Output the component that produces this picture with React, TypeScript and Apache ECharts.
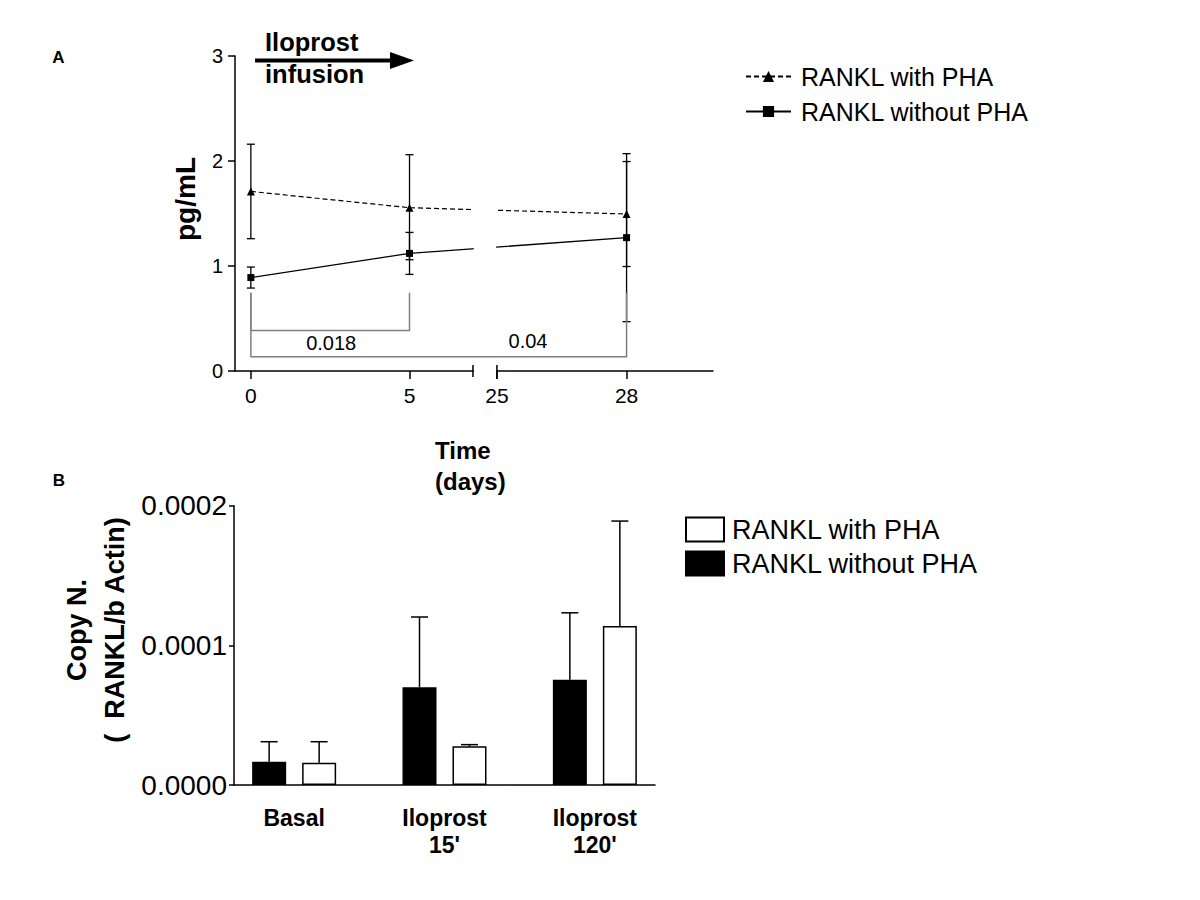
import React, { useEffect, useRef } from 'react';
import * as echarts from 'echarts';

// ---------- Panel A data ----------
const DAYS = [0, 5, 28];
const DAY_TICKS = [0, 5, 25, 28];
const WITH_PHA_MEAN = [1.71, 1.555, 1.495];
const WITH_PHA_LOW = [1.26, 1.06, 0.995];
const WITH_PHA_HIGH = [2.16, 2.06, 1.995];
const WITHOUT_PHA_MEAN = [0.89, 1.12, 1.27];
const WITHOUT_PHA_LOW = [0.79, 0.92, 0.47];
const WITHOUT_PHA_HIGH = [0.99, 1.32, 2.07];
const P_VALUES = ['0.018', '0.04'];

// ---------- Panel B data ----------
const CATEGORIES = ['Basal', "Iloprost\n15'", "Iloprost\n120'"];
const BAR_WITHOUT = [0.0000167, 0.00007, 0.0000754];
const BAR_WITHOUT_ERR = [0.000031, 0.0001203, 0.0001233];
const BAR_WITH = [0.000016, 0.0000277, 0.0001138];
const BAR_WITH_ERR = [0.000031, 0.0000289, 0.000189];

const NAME_WITH = 'RANKL with PHA';
const NAME_WITHOUT = 'RANKL without PHA';

// broken time axis: days 0..7 | 25..30 (right part drawn wider)
const LEFT_END = 7;
const RIGHT_START = 25;
const AXIS_END = 30;
const BREAK_GAP = 0.755;
const RIGHT_SCALE = 1.362;
const toAxis = (d: number) =>
  d <= LEFT_END ? d : LEFT_END + BREAK_GAP + (d - RIGHT_START) * RIGHT_SCALE;

const FONT = 'Liberation Sans, Arial, sans-serif';

export default function App() {
  const ref = useRef<HTMLDivElement>(null);
  useEffect(() => {
    if (!ref.current) return;
    const chart = echarts.init(ref.current, null, { renderer: 'svg' });

    const errA = (params: any, api: any) => {
      const x = api.value(0);
      const top = api.coord([x, api.value(2)]);
      const bot = api.coord([x, api.value(1)]);
      const w = 4;
      const st = { stroke: '#000', lineWidth: 1.3 };
      return {
        type: 'group',
        children: [
          { type: 'line', shape: { x1: top[0], y1: top[1], x2: bot[0], y2: bot[1] }, style: st },
          { type: 'line', shape: { x1: top[0] - w, y1: top[1], x2: top[0] + w, y2: top[1] }, style: st },
          { type: 'line', shape: { x1: bot[0] - w, y1: bot[1], x2: bot[0] + w, y2: bot[1] }, style: st },
        ],
      };
    };
    const errB = (offset: number) => (params: any, api: any) => {
      const i = api.value(0);
      const top = api.coord([i, api.value(2)]);
      const bot = api.coord([i, api.value(1)]);
      const x = top[0] + offset;
      const w = 8.5;
      const st = { stroke: '#000', lineWidth: 1.5 };
      return {
        type: 'group',
        children: [
          { type: 'line', shape: { x1: x, y1: top[1], x2: x, y2: bot[1] }, style: st },
          { type: 'line', shape: { x1: x - w, y1: top[1], x2: x + w, y2: top[1] }, style: st },
        ],
      };
    };

    const axisLine = { show: true, onZero: false, lineStyle: { color: '#000', width: 1.5 } };
    const tickStyle = { color: '#000', width: 1.5 };

    chart.setOption({
      animation: false,
      backgroundColor: '#fff',
      textStyle: { fontFamily: FONT },
      grid: [
        { left: 235, top: 56, width: 478, height: 315, outerBoundsMode: 'none' },
        { left: 234, top: 505.7, width: 421, height: 279.3, outerBoundsMode: 'none' },
      ],
      legend: [
        {
          orient: 'vertical',
          left: 745,
          top: 64,
          padding: 0,
          itemWidth: 45,
          itemHeight: 14,
          itemGap: 10,
          selectedMode: false,
          data: ['A: ' + NAME_WITH, 'A: ' + NAME_WITHOUT],
          formatter: (n: string) => n.slice(3),
          textStyle: { fontSize: 25, color: '#000', fontFamily: FONT, padding: [0, 0, 0, 5] },
        },
        {
          orient: 'vertical',
          left: 685,
          top: 516,
          padding: 0,
          itemWidth: 38,
          itemHeight: 24,
          itemGap: 7,
          icon: 'rect',
          selectedMode: false,
          data: ['B: ' + NAME_WITH, 'B: ' + NAME_WITHOUT],
          formatter: (n: string) => n.slice(3),
          textStyle: { fontSize: 27, color: '#000', fontFamily: FONT, padding: [0, 0, 0, 3] },
        },
      ],
      xAxis: [
        {
          gridIndex: 0,
          type: 'value',
          min: -0.5,
          max: toAxis(AXIS_END),
          axisLine,
          splitLine: { show: false },
          axisTick: { show: true, length: 8, lineStyle: tickStyle, customValues: DAY_TICKS.map(toAxis) },
          axisLabel: {
            customValues: DAY_TICKS.map(toAxis),
            formatter: (v: number) => {
              const d = DAY_TICKS.find((t) => Math.abs(toAxis(t) - v) < 1e-6);
              return d === undefined ? '' : String(d);
            },
            fontSize: 21,
            color: '#000',
            margin: 14,
            fontFamily: FONT,
          },
        },
        {
          gridIndex: 1,
          type: 'value',
          min: -0.4,
          max: 2.4,
          axisLine,
          splitLine: { show: false },
          axisTick: { show: false },
          axisLabel: {
            customValues: CATEGORIES.map((_, i) => i),
            formatter: (v: number) => CATEGORIES[Math.round(v)] ?? '',
            fontSize: 23,
            fontWeight: 'bold',
            lineHeight: 27,
            color: '#000',
            margin: 19,
            fontFamily: FONT,
          },
        },
      ],
      yAxis: [
        {
          gridIndex: 0,
          type: 'value',
          min: 0,
          max: 3,
          interval: 1,
          axisLine,
          splitLine: { show: false },
          axisTick: { show: true, length: 7, lineStyle: tickStyle },
          axisLabel: { fontSize: 20, color: '#000', margin: 12, fontFamily: FONT },
        },
        {
          gridIndex: 1,
          type: 'value',
          min: 0,
          max: 0.0002,
          interval: 0.0001,
          axisLine,
          splitLine: { show: false },
          axisTick: { show: true, length: 5, lineStyle: tickStyle },
          axisLabel: {
            fontSize: 28,
            color: '#000',
            margin: 7,
            fontFamily: FONT,
            formatter: (v: number) => v.toFixed(4),
          },
        },
      ],
      series: [
        {
          name: 'A: ' + NAME_WITH,
          type: 'line',
          xAxisIndex: 0,
          yAxisIndex: 0,
          data: DAYS.map((d, i) => [toAxis(d), WITH_PHA_MEAN[i]]),
          symbol: 'triangle',
          symbolSize: 8,
          lineStyle: { color: '#000', width: 1.2, type: [5, 3] },
          itemStyle: { color: '#000' },
        },
        {
          name: 'A: ' + NAME_WITHOUT,
          type: 'line',
          xAxisIndex: 0,
          yAxisIndex: 0,
          data: DAYS.map((d, i) => [toAxis(d), WITHOUT_PHA_MEAN[i]]),
          symbol: 'rect',
          symbolSize: 7,
          lineStyle: { color: '#000', width: 1.3 },
          itemStyle: { color: '#000' },
        },
        {
          type: 'custom',
          xAxisIndex: 0,
          yAxisIndex: 0,
          renderItem: errA,
          encode: { x: 0, y: [1, 2] },
          data: DAYS.map((d, i) => [toAxis(d), WITH_PHA_LOW[i], WITH_PHA_HIGH[i]]),
        },
        {
          type: 'custom',
          xAxisIndex: 0,
          yAxisIndex: 0,
          renderItem: errA,
          encode: { x: 0, y: [1, 2] },
          data: DAYS.map((d, i) => [toAxis(d), WITHOUT_PHA_LOW[i], WITHOUT_PHA_HIGH[i]]),
        },
        {
          name: 'B: ' + NAME_WITHOUT,
          type: 'bar',
          xAxisIndex: 1,
          yAxisIndex: 1,
          barWidth: 34,
          barGap: '47%',
          data: CATEGORIES.map((_, i) => [i, BAR_WITHOUT[i]]),
          itemStyle: { color: '#000', borderColor: '#000', borderWidth: 1.5 },
        },
        {
          name: 'B: ' + NAME_WITH,
          type: 'bar',
          xAxisIndex: 1,
          yAxisIndex: 1,
          barWidth: 34,
          barGap: '47%',
          data: CATEGORIES.map((_, i) => [i, BAR_WITH[i]]),
          itemStyle: { color: '#fff', borderColor: '#000', borderWidth: 1.5 },
        },
        {
          type: 'custom',
          xAxisIndex: 1,
          yAxisIndex: 1,
          renderItem: errB(-25),
          encode: { x: 0, y: [1, 2] },
          data: CATEGORIES.map((_, i) => [i, BAR_WITHOUT[i], BAR_WITHOUT_ERR[i]]),
        },
        {
          type: 'custom',
          xAxisIndex: 1,
          yAxisIndex: 1,
          renderItem: errB(25),
          encode: { x: 0, y: [1, 2] },
          data: CATEGORIES.map((_, i) => [i, BAR_WITH[i], BAR_WITH_ERR[i]]),
        },
      ],
    });

    // decorations computed from the axis scales
    const px = (x: number, y: number) => chart.convertToPixel({ gridIndex: 0 }, [x, y]) as number[];
    const brkL = px(LEFT_END, 0);
    const brkR = px(toAxis(RIGHT_START), 0);
    const top = px(0, 3);
    const p0 = px(toAxis(0), 0.745);
    const p5 = px(toAxis(5), 0.745);
    const p28 = px(toAxis(28), 0.745);
    const yB1 = px(0, 0.385)[1];
    const yB2 = px(0, 0.136)[1];
    const gray = { stroke: '#808080', lineWidth: 1.5, fill: 'none' };
    const txt = (text: string, x: number, y: number, size: number, bold: boolean, extra: any = {}, rotation = 0) => ({
      type: 'text',
      x,
      y,
      z: 20,
      rotation,
      style: {
        text,
        fill: '#000',
        font: `${bold ? 'bold ' : ''}${size}px ${FONT}`,
        align: 'center',
        verticalAlign: 'middle',
        ...extra,
      },
    });

    chart.setOption({
      graphic: {
        elements: [
          {
            type: 'rect',
            z: 10,
            shape: { x: brkL[0] + 0.8, y: top[1], width: brkR[0] - brkL[0] - 1.6, height: brkL[1] - top[1] + 4 },
            style: { fill: '#fff' },
          },
          { type: 'line', z: 12, shape: { x1: brkL[0], y1: brkL[1] - 6, x2: brkL[0], y2: brkL[1] + 6 }, style: { stroke: '#000', lineWidth: 1.5 } },
          { type: 'line', z: 12, shape: { x1: brkR[0], y1: brkR[1] - 6, x2: brkR[0], y2: brkR[1] + 8 }, style: { stroke: '#000', lineWidth: 1.5 } },
          {
            type: 'polyline',
            z: 11,
            shape: { points: [[p0[0], p0[1]], [p0[0], yB1], [p5[0], yB1], [p5[0], p5[1]]] },
            style: gray,
          },
          {
            type: 'polyline',
            z: 11,
            shape: { points: [[p0[0], p0[1]], [p0[0], yB2], [p28[0], yB2], [p28[0], p28[1]]] },
            style: gray,
          },
          txt(P_VALUES[0], (p0[0] + p5[0]) / 2 + 1, yB1 + 12, 20, false),
          txt(P_VALUES[1], 528, yB2 - 16, 20, false),
          // arrow "Iloprost infusion"
          txt('Iloprost\ninfusion', 265, 58, 25.5, true, { align: 'left', lineHeight: 32 }),
          { type: 'line', z: 20, shape: { x1: 255, y1: 60.5, x2: 393, y2: 60.5 }, style: { stroke: '#000', lineWidth: 4 } },
          { type: 'polygon', z: 20, shape: { points: [[390, 52], [414, 60.5], [390, 69]] }, style: { fill: '#000' } },
          txt('pg/mL', 185, 199, 28, true, {}, Math.PI / 2),
          txt('Time\n(days)', 435, 466, 24, true, { align: 'left', lineHeight: 31 }),
          txt('A', 58.5, 57, 17, true),
          txt('B', 59, 480, 17, true),
          txt('Copy N.\n(  RANKL/b Actin)', 96, 630, 27, true, { lineHeight: 38 }, Math.PI / 2),
        ],
      },
    });

    return () => chart.dispose();
  }, []);
  return <div ref={ref} style={{ position: 'fixed', left: 0, top: 0, width: 1200, height: 900 }} />;
}
